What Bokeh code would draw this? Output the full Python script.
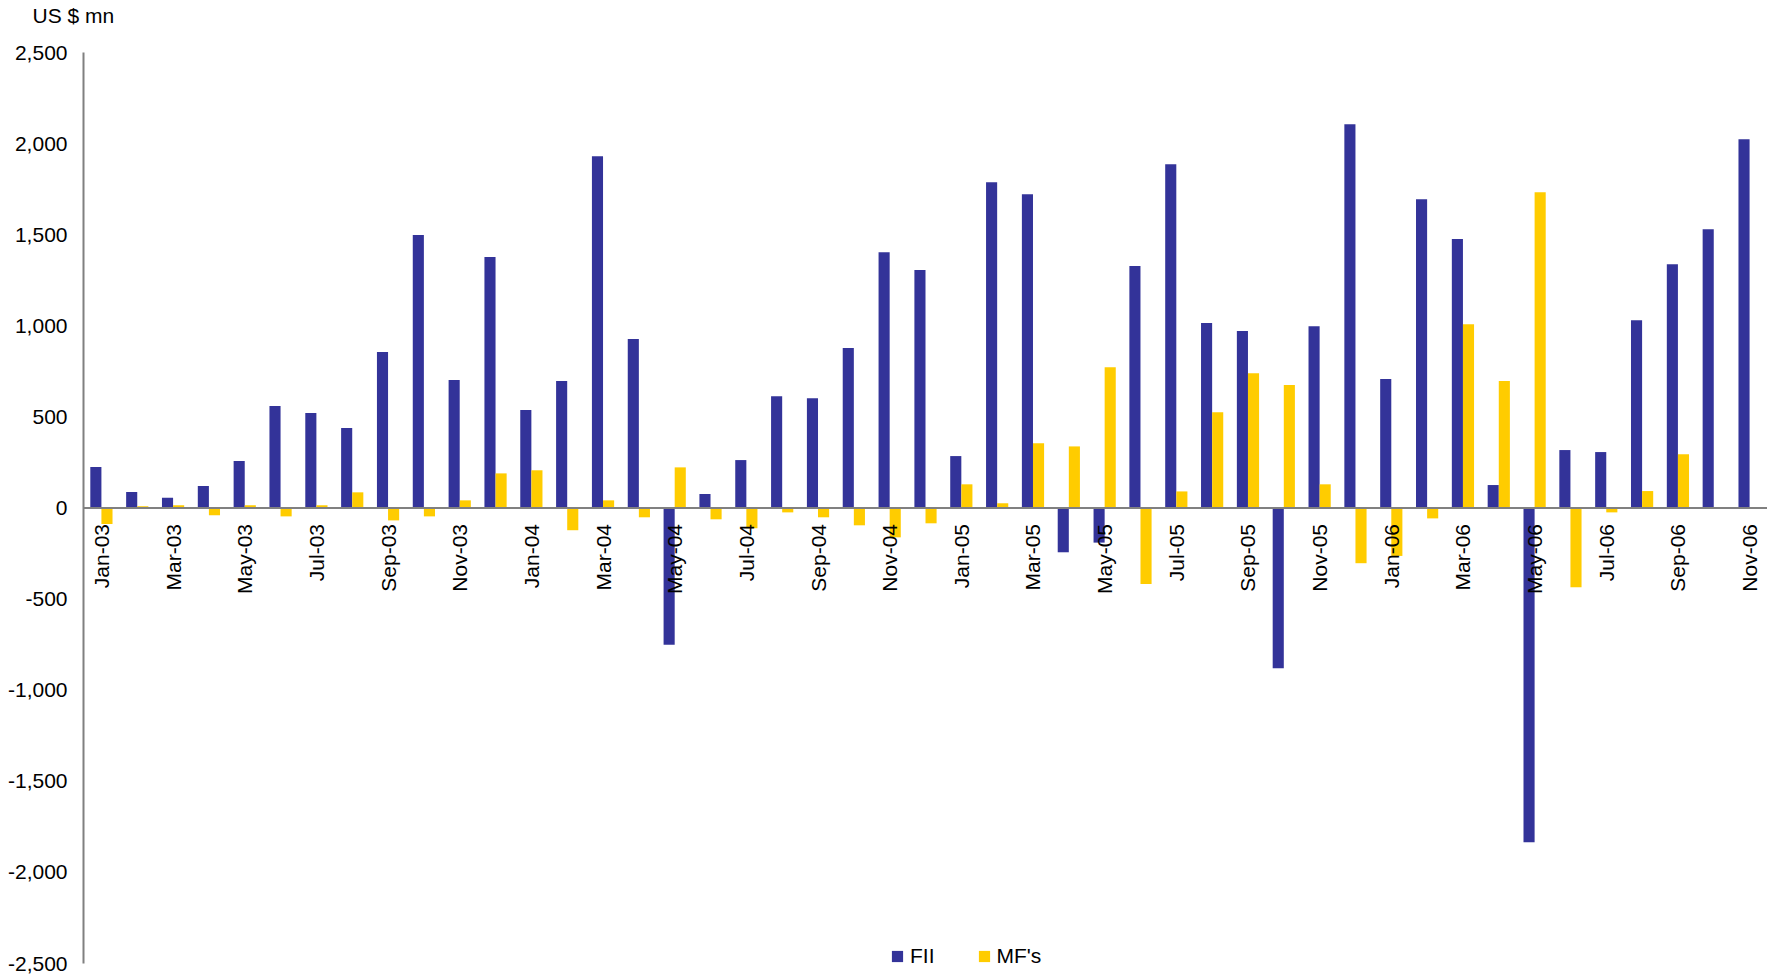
import math
from bokeh.plotting import figure
from bokeh.models import (ColumnDataSource, FactorRange, Range1d, FixedTicker,
                          NumeralTickFormatter, Span)
from bokeh.transform import dodge
from bokeh.core.properties import value
from bokeh.embed import file_html
from bokeh.resources import INLINE

# ---------------- data ----------------
months = [
    "Jan-03", "Feb-03", "Mar-03", "Apr-03", "May-03", "Jun-03", "Jul-03", "Aug-03", "Sep-03", "Oct-03", "Nov-03", "Dec-03",
    "Jan-04", "Feb-04", "Mar-04", "Apr-04", "May-04", "Jun-04", "Jul-04", "Aug-04", "Sep-04", "Oct-04", "Nov-04", "Dec-04",
    "Jan-05", "Feb-05", "Mar-05", "Apr-05", "May-05", "Jun-05", "Jul-05", "Aug-05", "Sep-05", "Oct-05", "Nov-05", "Dec-05",
    "Jan-06", "Feb-06", "Mar-06", "Apr-06", "May-06", "Jun-06", "Jul-06", "Aug-06", "Sep-06", "Oct-06", "Nov-06",
]
fii = [
    225, 88, 56, 121, 258, 560, 521, 439, 856, 1498, 702, 1377,
    538, 697, 1931, 927, -750, 77, 263, 614, 603, 878, 1404, 1306,
    285, 1788, 1722, -243, -190, 1328, 1887, 1015, 971, -880, 998, 2106,
    708, 1695, 1476, 126, -1835, 318, 307, 1031, 1338, 1530, 2024,
]
mf = [
    -88, 9, 15, -40, 15, -46, 15, 86, -68, -46, 42, 190,
    207, -122, 42, -51, 223, -62, -111, -24, -51, -95, -161, -84,
    130, 26, 355, 338, 773, -417, 91, 525, 740, 675, 130, -303,
    -263, -57, 1009, 697, 1733, -435, -24, 93, 295, 0, -4,
]
tick_labels = months[::2]
y_ticks = [-2500, -2000, -1500, -1000, -500, 0, 500, 1000, 1500, 2000, 2500]
unit_label = "US $ mn"

FONT = "Liberation Sans"

src = ColumnDataSource(dict(month=months, fii=fii, mf=mf))
lbl_src = ColumnDataSource(dict(label=tick_labels, base=[0] * len(tick_labels)))

# ---------------- layout ----------------
W, H = 1767, 975
MB_L, MB_R, MB_T, MB_B = 83, 0, 26, 0
TOP_PAD = 26                                 # px between frame top and axis top (2,500)
BOTTOM_PAD = 12                              # px between axis end and frame bottom
frame_h = H - MB_T - MB_B
axis_px = frame_h - TOP_PAD - BOTTOM_PAD
units_per_px = (y_ticks[-1] - y_ticks[0]) / axis_px
y_start = y_ticks[0] - BOTTOM_PAD * units_per_px
y_end = y_ticks[-1] + TOP_PAD * units_per_px

p = figure(
    x_range=FactorRange(factors=months, range_padding=0),
    y_range=Range1d(y_start, y_end),
    width=W, height=H,
    output_backend="svg", toolbar_location=None,
    x_axis_location=None,
    min_border_left=MB_L, min_border_right=MB_R,
    min_border_top=MB_T, min_border_bottom=MB_B,
    title=unit_label,
)

p.title.align = "left"
p.title.vertical_align = "bottom"
p.title.offset = -51
p.title.standoff = 0
p.title.text_font = FONT
p.title.text_font_size = "21px"
p.title.text_font_style = "normal"
p.title.text_color = "#000000"

p.vbar(x=dodge("month", -0.155, range=p.x_range), top="fii", width=0.31,
       source=src, fill_color="#333399", line_color=None, legend_label="FII")
p.vbar(x=dodge("month", 0.155, range=p.x_range), top="mf", width=0.31,
       source=src, fill_color="#FFCC00", line_color=None, legend_label="MF's")

p.add_layout(Span(location=0, dimension="width", line_color="#808080", line_width=2))

p.text(x="label", y="base", text="label", source=lbl_src,
       angle=math.pi / 2, text_align="right", text_baseline="middle",
       y_offset=16, text_font=value(FONT), text_font_size=value("21px"),
       text_color="#000000")

ax = p.yaxis[0]
ax.bounds = (y_ticks[0], y_ticks[-1])
ax.ticker = FixedTicker(ticks=y_ticks)
ax.formatter = NumeralTickFormatter(format="0,0")
ax.axis_line_color = "#808080"
ax.axis_line_width = 2
ax.major_tick_line_color = None
ax.minor_tick_line_color = None
ax.major_tick_out = 0
ax.major_tick_in = 0
ax.major_label_standoff = 16
ax.major_label_text_font = FONT
ax.major_label_text_font_size = "21px"
ax.major_label_text_color = "#000000"

p.grid.visible = False
p.outline_line_color = None

lg = p.legend[0]
lg.location = (807, 7)
lg.orientation = "horizontal"
lg.border_line_color = None
lg.background_fill_alpha = 0
lg.padding = 0
lg.margin = 0
lg.spacing = 42
lg.glyph_width = 14
lg.glyph_height = 14
lg.label_standoff = 6
lg.label_text_font = FONT
lg.label_text_font_size = "21px"
lg.label_text_color = "#000000"

open("out.html", "w").write(file_html(p, INLINE))
